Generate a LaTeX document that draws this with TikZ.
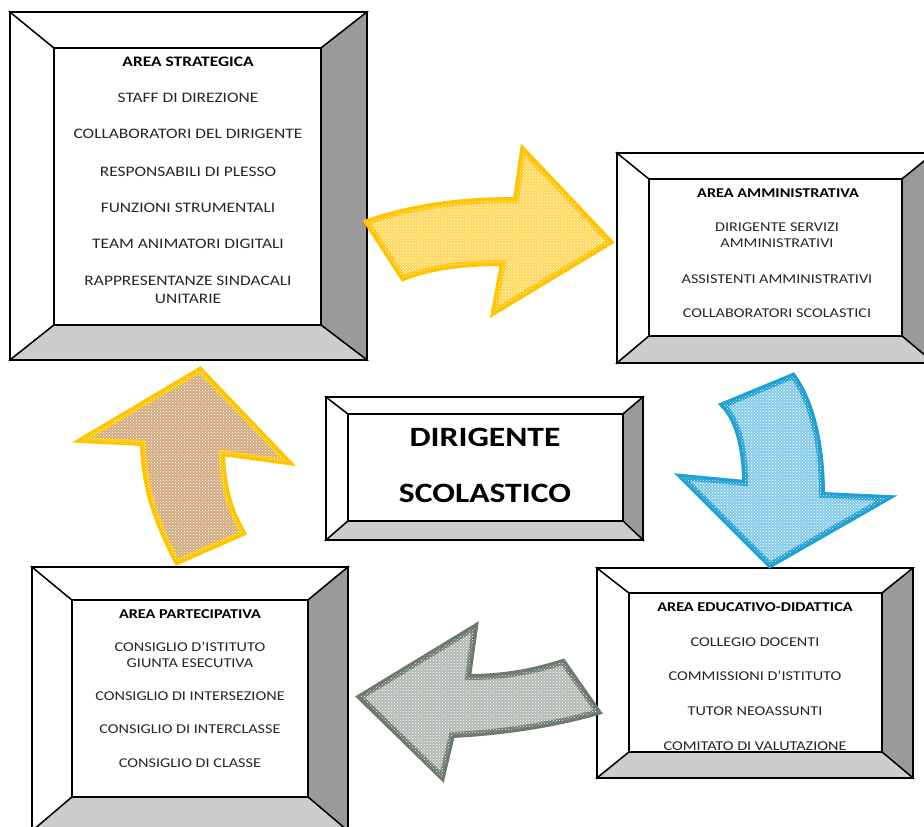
\documentclass[tikz,border=0pt]{standalone}
\usepackage{fontspec}
\setmainfont{Carlito}[FakeStretch=1.2]
\usetikzlibrary{patterns}

\definecolor{bevdark}{HTML}{9A9A9A}
\definecolor{bevlight}{HTML}{CDCDCD}
\definecolor{goldline}{HTML}{FFC400}
\definecolor{goldfill}{HTML}{FFD75A}
\definecolor{blueline}{HTML}{1EA0D2}
\definecolor{bluefill}{HTML}{86CBE8}
\definecolor{grayline}{HTML}{6E7A6F}
\definecolor{grayfill}{HTML}{B4B9B4}
\definecolor{tanfill}{HTML}{D2AA80}

% outer x1,y1,x2,y2 then inner x1,y1,x2,y2
\newcommand{\bevelbox}[8]{%
  \filldraw[frameline,fill=white] (#1,#2) -- (#5,#6) -- (#5,#8) -- (#1,#4) -- cycle;
  \filldraw[frameline,fill=white] (#1,#2) -- (#3,#2) -- (#7,#6) -- (#5,#6) -- cycle;
  \filldraw[frameline,fill=bevdark] (#3,#2) -- (#3,#4) -- (#7,#8) -- (#7,#6) -- cycle;
  \filldraw[frameline,fill=bevlight] (#1,#4) -- (#3,#4) -- (#7,#8) -- (#5,#8) -- cycle;
  \filldraw[frameline,fill=white] (#5,#6) rectangle (#7,#8);
  \draw[line width=2pt] (#1,#2) rectangle (#3,#4);
}

\begin{document}
\begin{tikzpicture}[x=1pt,y=-1pt,
  frameline/.style={draw=black,line width=1.4pt,line join=miter},
  titletxt/.style={font=\fontsize{14.5}{17.5}\selectfont\bfseries,text=black,inner sep=0pt},
  itemtxt/.style={font=\fontsize{14.5}{17.5}\selectfont,text=black!85,align=center,inner sep=0pt},
  smalltitle/.style={titletxt,font=\fontsize{13.5}{16}\selectfont\bfseries},
  smallitem/.style={itemtxt,font=\fontsize{13.5}{16}\selectfont},
  bigtxt/.style={font=\fontsize{28}{34}\selectfont\bfseries,text=black,inner sep=0pt},
  bendarrow/.style={line width=6pt,line join=miter,miter limit=4,
    postaction={pattern=crosshatch dots,pattern color=white}},
  goldarrow/.style={bendarrow,draw=goldline,fill=goldfill},
  bluearrow/.style={bendarrow,draw=blueline,fill=bluefill},
  grayarrow/.style={bendarrow,draw=grayline,fill=grayfill},
  tanarrow/.style={bendarrow,draw=goldline,fill=tanfill}]

\useasboundingbox (0,0) rectangle (924,827);
\clip (0,0) rectangle (924,827);
\fill[white] (0,0) rectangle (924,827);

% frames
\bevelbox{10}{12}{367}{360}{54}{48}{321}{325}
\bevelbox{617}{153}{934}{363}{649}{179}{902}{336}
\bevelbox{326}{397}{643}{540}{348}{414}{623}{521}
\bevelbox{597}{568}{913}{778}{629}{593}{882}{752}
\bevelbox{32}{567}{348}{831}{72}{600}{308}{797}

% arrows
\draw[goldarrow] (367,222) .. controls (415,206) and (460,200) .. (516,200) -- (523,150)
  -- (610,242) -- (494,312) -- (503,263) .. controls (460,263) and (428,268) .. (403,278) -- cycle;
\draw[bluearrow] (723,405) -- (793,376) .. controls (812,402) and (822,445) .. (822,495)
  -- (887,498) -- (770,565) -- (682,477) -- (745,483) .. controls (745,450) and (738,420) .. (723,405) -- cycle;
\draw[grayarrow] (360,697) -- (475,627) -- (468,677) .. controls (505,677) and (535,671) .. (563,662)
  -- (598,712) .. controls (550,726) and (495,733) .. (452,735) -- (442,777) -- cycle;
\draw[tanarrow] (200,370) -- (288,462) -- (222,453) .. controls (223,490) and (231,512) .. (243,533)
  -- (177,562) .. controls (157,522) and (144,490) .. (143,443) -- (82,440) -- cycle;

% area strategica
\node[titletxt] (strat) at (188,62) {AREA STRATEGICA};
\foreach \y/\t [count=\i] in {98/STAFF DI DIREZIONE, 134/COLLABORATORI DEL DIRIGENTE,
    172/RESPONSABILI DI PLESSO, 208/FUNZIONI STRUMENTALI, 244/TEAM ANIMATORI DIGITALI,
    290/{RAPPRESENTANZE SINDACALI\\UNITARIE}}
  \node[itemtxt] (strat-\i) at (188,\y) {\t};

% area amministrativa
\node[smalltitle] (ammin) at (778,193) {AREA AMMINISTRATIVA};
\foreach \y/\t [count=\i] in {235/{DIRIGENTE SERVIZI\\AMMINISTRATIVI},
    279/ASSISTENTI AMMINISTRATIVI, 313/COLLABORATORI SCOLASTICI}
  \node[smallitem] (ammin-\i) at (777,\y) {\t};

% dirigente
\node[bigtxt] (dir1) at (485,437) {DIRIGENTE};
\node[bigtxt] (dir2) at (485,493) {SCOLASTICO};

% area educativo-didattica
\node[smalltitle] (educ) at (755,607) {AREA EDUCATIVO-DIDATTICA};
\foreach \y/\t [count=\i] in {642/COLLEGIO DOCENTI, 676/COMMISSIONI D’ISTITUTO,
    711/TUTOR NEOASSUNTI, 746/COMITATO DI VALUTAZIONE}
  \node[smallitem] (educ-\i) at (755,\y) {\t};

% area partecipativa
\node[smalltitle] (part) at (190,614) {AREA PARTECIPATIVA};
\foreach \y/\t [count=\i] in {655/{CONSIGLIO D’ISTITUTO\\GIUNTA ESECUTIVA},
    696/CONSIGLIO DI INTERSEZIONE, 729/CONSIGLIO DI INTERCLASSE, 763/CONSIGLIO DI CLASSE}
  \node[smallitem] (part-\i) at (190,\y) {\t};

\end{tikzpicture}
\end{document}
